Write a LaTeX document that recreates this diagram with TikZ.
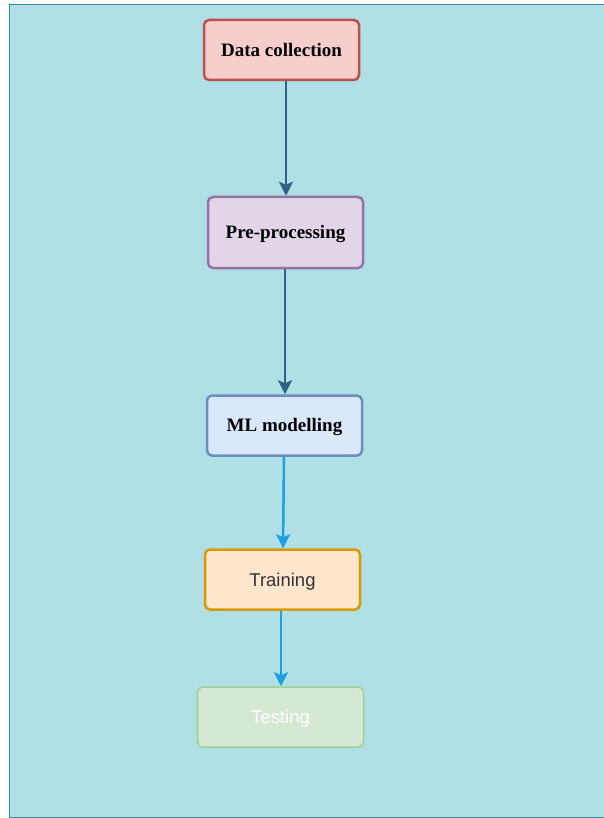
\documentclass[tikz,border=0pt]{standalone}
\usepackage{fontspec}
\setmainfont{Liberation Serif}
\setsansfont{Liberation Sans}
\usetikzlibrary{arrows.meta}

\definecolor{bgcyan}{HTML}{B0E0E6}
\definecolor{bgedge}{HTML}{3A8E96}
\definecolor{redfill}{HTML}{F8CECC}
\definecolor{redline}{HTML}{B85450}
\definecolor{purplefill}{HTML}{E1D5E7}
\definecolor{purpleline}{HTML}{9673A6}
\definecolor{bluefill}{HTML}{DAE8FC}
\definecolor{blueline}{HTML}{6C8EBF}
\definecolor{orangefill}{HTML}{FFE6CC}
\definecolor{orangeline}{HTML}{D79B00}
\definecolor{greenfill}{HTML}{D5E8D4}
\definecolor{greenline}{HTML}{9FD08F}
\definecolor{darkarrow}{HTML}{2F6284}
\definecolor{lightarrow}{HTML}{1BA1E2}

\begin{document}
\begin{tikzpicture}[x=1pt,y=-1pt]
\tikzstyle{every node}+=[inner sep=0pt]
\tikzstyle{stagebox}=[draw, line width=2.5pt, rounded corners=5pt, minimum width=155pt, minimum height=60pt, text height=12.6pt, text depth=0pt, font=\fontsize{19}{21}\selectfont\bfseries]
\tikzstyle{sansbox}=[stagebox, text height=13.2pt, font=\fontsize{18.5}{21}\selectfont\sffamily]
\tikzstyle{flow}=[line width=2.5pt, -{Stealth[length=14pt,width=14pt,inset=3pt]}]
\useasboundingbox (0,0) rectangle (604,818);
\fill [bgcyan] (9,5) rectangle (606,817);
\draw [bgedge, line width=1pt] (606,5) -- (9,5) -- (9,817) -- (606,817);
\node [stagebox, fill=redfill, draw=redline] (collect) at (281.5,50) {Data collection};
\node [stagebox, fill=purplefill, draw=purpleline, minimum height=71pt] (prep) at (285.5,232.5) {Pre-processing};
\node [stagebox, fill=bluefill, draw=blueline] (model) at (284.5,425.5) {ML modelling};
\node [sansbox, fill=orangefill, draw=orangeline, text=black!80] (train) at (282.5,579.5) {Training};
\node [sansbox, fill=greenfill, draw=greenline, line width=1.5pt, minimum width=166pt, text=white] (test) at (280.5,717) {Testing};
\draw [flow, darkarrow] (collect.south -| 286,0) -- (prep.north -| 286,0);
\draw [flow, darkarrow] (prep.south -| 285,0) -- (model.north -| 285,0);
\draw [flow, lightarrow] (model.south -| 284,0) -- (train.north -| 283,0);
\draw [flow, lightarrow] (train.south -| 281,0) -- (test.north -| 281,0);
\end{tikzpicture}
\end{document}
